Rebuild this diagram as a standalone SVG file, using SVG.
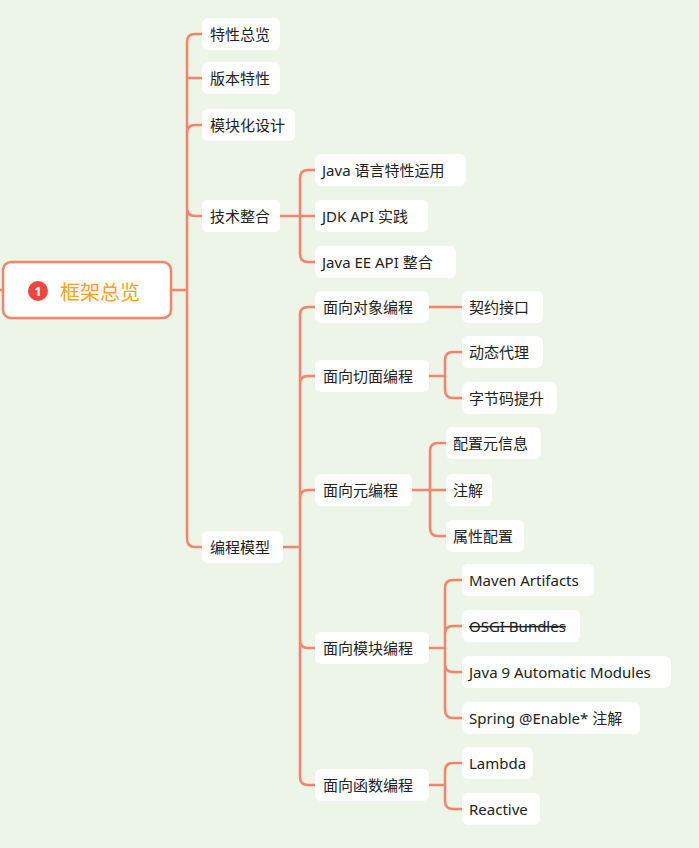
<svg xmlns="http://www.w3.org/2000/svg" width="699" height="848" viewBox="0 0 699 848">
<style>
.n rect{fill:#fff;rx:6px}
.n text{font-family:"Noto Sans","Noto Sans CJK SC",sans-serif;font-size:15px;fill:#222;dominant-baseline:central}
.c path{fill:none;stroke:#F7836B;stroke-width:2.5}
</style>
<rect width="699" height="848" fill="#EDF5E8"/>
<g class="c">
<path d="M0 290H3M171 290H187"/>
<path d="M187 290V42Q187 34 195 34H202M187 78H202M187 125V133Q187 125 195 125H202M187 290V208Q187 216 195 216H202M187 290V539Q187 547 195 547H202"/>
<path d="M187 125Q187 125 187 125"/>
<path d="M280 216H300M300 216V178Q300 170 308 170H315M300 216H315M300 216V254Q300 262 308 262H315"/>
<path d="M283 547H300M300 547V315Q300 307 308 307H315M300 547V384Q300 376 308 376H315M300 547V498Q300 490 308 490H315M300 547V640Q300 648 308 648H315M300 547V777Q300 785 308 785H315"/>
<path d="M429 307H462"/>
<path d="M429 376H445M445 376V360Q445 352 453 352H462M445 376V390Q445 398 453 398H462"/>
<path d="M412 490H430M430 490V451Q430 443 438 443H446M430 490H446M430 490V528Q430 536 438 536H446"/>
<path d="M429 648H445M445 648V588Q445 580 453 580H462M445 648V634Q445 626 453 626H462M445 648V664Q445 672 453 672H462M445 648V710Q445 718 453 718H462"/>
<path d="M429 785H445M445 785V771Q445 763 453 763H462M445 785V801Q445 809 453 809H462"/>
</g>
<g id="root"><rect x="3" y="262" width="168" height="56" rx="8" fill="#fff" stroke="#F7836B" stroke-width="2.5"/>
<circle cx="38" cy="291" r="10" fill="#F0443C"/><text x="38" y="291" font-family="Noto Sans,sans-serif" font-size="13" font-weight="bold" fill="#fff" text-anchor="middle" dominant-baseline="central">1</text>
<text x="60" y="291" font-family="Noto Sans CJK SC,sans-serif" font-size="20" fill="#F5A21E" dominant-baseline="central">框架总览</text></g>
<g id="n1" class="n"><rect x="202" y="18" width="78" height="32"/><text x="210" y="34">特性总览</text></g>
<g id="n2" class="n"><rect x="202" y="62" width="78" height="32"/><text x="210" y="78">版本特性</text></g>
<g id="n3" class="n"><rect x="202" y="109" width="93" height="32"/><text x="210" y="125">模块化设计</text></g>
<g id="n4" class="n"><rect x="202" y="200" width="78" height="32"/><text x="210" y="216">技术整合</text></g>
<g id="n5" class="n"><rect x="202" y="531" width="81" height="32"/><text x="210" y="547">编程模型</text></g>
<g id="n41" class="n"><rect x="315" y="154" width="151" height="32"/><text x="322" y="170">Java 语言特性运用</text></g>
<g id="n42" class="n"><rect x="315" y="200" width="113" height="32"/><text x="322" y="216">JDK API 实践</text></g>
<g id="n43" class="n"><rect x="315" y="246" width="141" height="32"/><text x="322" y="262">Java EE API 整合</text></g>
<g id="n51" class="n"><rect x="315" y="291" width="114" height="32"/><text x="323" y="307">面向对象编程</text></g>
<g id="n52" class="n"><rect x="315" y="360" width="114" height="32"/><text x="323" y="376">面向切面编程</text></g>
<g id="n53" class="n"><rect x="315" y="474" width="97" height="32"/><text x="323" y="490">面向元编程</text></g>
<g id="n54" class="n"><rect x="315" y="632" width="114" height="32"/><text x="323" y="648">面向模块编程</text></g>
<g id="n55" class="n"><rect x="315" y="769" width="114" height="32"/><text x="323" y="785">面向函数编程</text></g>
<g id="n511" class="n"><rect x="462" y="291" width="81" height="32"/><text x="469" y="307">契约接口</text></g>
<g id="n521" class="n"><rect x="462" y="336" width="81" height="32"/><text x="469" y="352">动态代理</text></g>
<g id="n522" class="n"><rect x="462" y="382" width="95" height="32"/><text x="469" y="398">字节码提升</text></g>
<g id="n531" class="n"><rect x="446" y="427" width="95" height="32"/><text x="453" y="443">配置元信息</text></g>
<g id="n532" class="n"><rect x="446" y="474" width="46" height="32"/><text x="453" y="490">注解</text></g>
<g id="n533" class="n"><rect x="446" y="520" width="78" height="32"/><text x="453" y="536">属性配置</text></g>
<g id="n541" class="n"><rect x="462" y="564" width="132" height="32"/><text x="469" y="580">Maven Artifacts</text></g>
<g id="n542" class="n"><rect x="462" y="610" width="118" height="32"/><text x="469" y="626" text-decoration="line-through">OSGI Bundles</text></g>
<g id="n543" class="n"><rect x="462" y="656" width="209" height="32"/><text x="469" y="672">Java 9 Automatic Modules</text></g>
<g id="n544" class="n"><rect x="462" y="702" width="178" height="32"/><text x="469" y="718">Spring @Enable* 注解</text></g>
<g id="n551" class="n"><rect x="462" y="747" width="71" height="32"/><text x="469" y="763">Lambda</text></g>
<g id="n552" class="n"><rect x="462" y="793" width="78" height="32"/><text x="469" y="809">Reactive</text></g>
</svg>
